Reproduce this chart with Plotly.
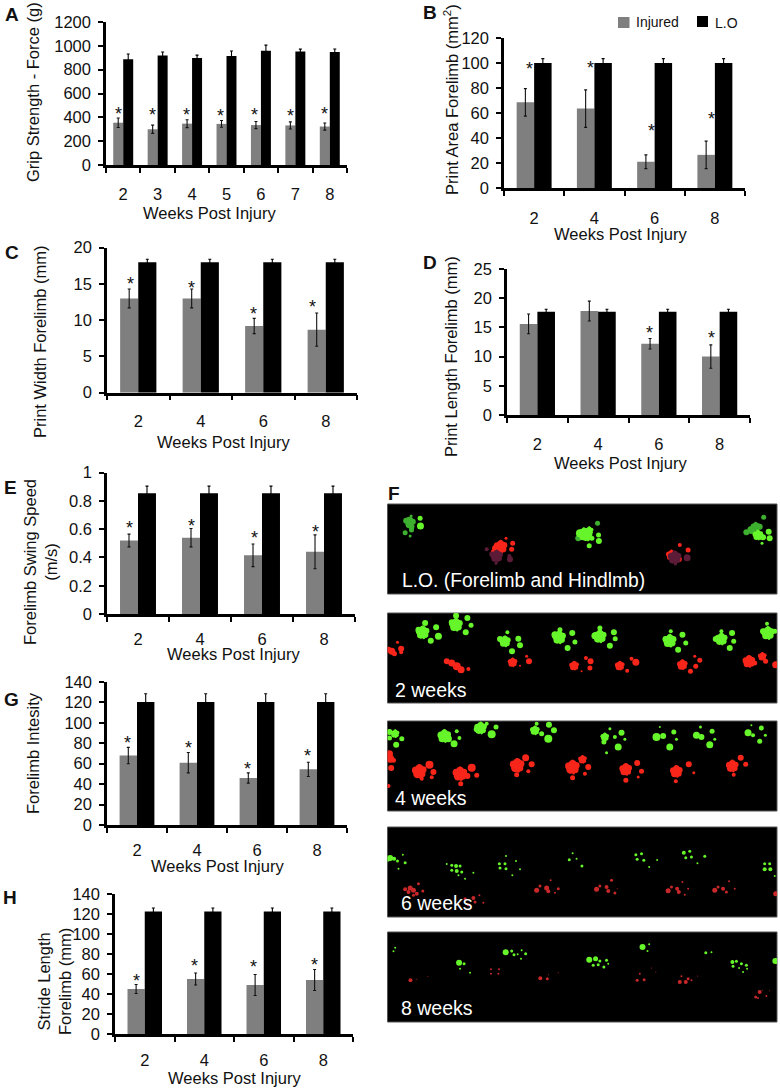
import plotly.graph_objects as go

FONT = "Liberation Sans"
W, H = 780, 1090
GRAY = "#7f7f7f"
INK = "#111111"

weeks_a = ["2", "3", "4", "5", "6", "7", "8"]
weeks = ["2", "4", "6", "8"]

a_injured = [355, 300, 347, 345, 335, 332, 323]
a_injured_err = [40, 35, 33, 28, 30, 30, 30]
a_lo = [887, 918, 897, 915, 958, 952, 948]
a_lo_err = [45, 30, 25, 42, 48, 20, 25]
a_star_x = [-0.15, 0.846, 1.826, 2.84, 3.80, 4.85, 5.85]
a_star_y = [447, 442, 439, 434, 439, 434, 445]
a_ticks = [0, 200, 400, 600, 800, 1000, 1200]

b_injured = [68.5, 63.5, 21, 26.5]
b_injured_err = [11, 15, 5.5, 11]
b_lo = [100, 100, 100, 100]
b_lo_err = [3.5, 3.5, 3.5, 3.5]
b_star_x = [-0.07, 0.93, 1.94, 2.95]
b_star_y = [97, 98, 48, 57]
b_ticks = [0, 20, 40, 60, 80, 100, 120]

c_injured = [13, 13, 9.2, 8.7]
c_injured_err = [1.3, 1.3, 1.05, 2.3]
c_lo = [18, 18, 18, 18]
c_lo_err = [0.4, 0.4, 0.4, 0.4]
c_star_x = [-0.13, 0.855, 1.84, 2.79]
c_star_y = [15.3, 14.85, 11.2, 12.2]
c_ticks = [0, 5, 10, 15, 20]

d_injured = [15.6, 17.8, 12.2, 10]
d_injured_err = [1.7, 1.7, 0.9, 2]
d_lo = [17.7, 17.7, 17.7, 17.7]
d_lo_err = [0.4, 0.4, 0.4, 0.4]
d_star_x = [1.85, 2.86]
d_star_y = [14.5, 13.6]
d_ticks = [0, 5, 10, 15, 20, 25]

e_injured = [0.52, 0.54, 0.415, 0.44]
e_injured_err = [0.045, 0.065, 0.08, 0.12]
e_lo = [0.855, 0.855, 0.855, 0.855]
e_lo_err = [0.05, 0.05, 0.05, 0.05]
e_star_x = [-0.13, 0.855, 1.876, 2.86]
e_star_y = [0.623, 0.642, 0.553, 0.6]
e_ticks = [0, 0.2, 0.4, 0.6, 0.8, 1]

g_injured = [68, 61, 46, 54.5]
g_injured_err = [8, 10, 5, 7]
g_lo = [120.5, 120.5, 120.5, 120.5]
g_lo_err = [8, 8, 8, 8]
g_star_x = [-0.155, 0.855, 1.845, 2.84]
g_star_y = [82.6, 77.4, 57, 70]
g_ticks = [0, 20, 40, 60, 80, 100, 120, 140]

h_injured = [45, 55, 49, 54]
h_injured_err = [4.5, 6, 10.5, 10.5]
h_lo = [122.5, 122.5, 122.5, 122.5]
h_lo_err = [3.5, 3.5, 3.5, 3.5]
h_star_x = [-0.147, 0.83, 1.835, 2.85]
h_star_y = [55.5, 70.5, 69.2, 71.8]
h_ticks = [0, 20, 40, 60, 80, 100, 120, 140]

# Paw prints of panel F: (x, y, size)
f1_green = [(600,160,8),(612,155,9),(628,152,9),(622,168,11),(608,172,6),(636,175,5),(656,165,5),(657,183,6),(628,197,5),(1135,165,11),(1145,170,6),(1150,172,6),(1167,155,6),(1170,175,6),(1147,190,3),(121,138,7),(120,115,5)]
f1_green_dim = [(78,122,6),(88,122,8),(98,125,6),(88,133,8),(94,140,6),(94,150,5),(93,108,3),(75,158,5),(90,168,3),(595,175,6),(653,130,5),(1115,150,8),(1128,140,10),(1140,140,6),(1100,157,6),(1152,112,5)]
f1_red = [(362,200,14),(345,205,6),(340,215,5),(398,190,5),(395,208,5),(378,175,3),(875,225,11),(900,195,4),(925,210,5),(897,238,6)]
f1_red_dim = [(350,228,13),(335,222,5),(390,238,6),(388,228,4),(320,208,4),(348,250,3),(885,232,14),(922,233,7),(887,252,3)]
f2_green = [(128,458,14),(115,450,6),(135,430,6),(168,443,6),(175,470,7),(152,483,6),
            (228,435,14),(215,428,6),(228,408,6),(262,415,6),(273,437,5),(257,458,6),
            (375,485,12),(360,478,6),(382,458,4),(415,477,6),(420,497,6),(396,515,6),
            (538,473,14),(525,465,7),(540,450,5),(577,460,6),(585,487,5),(563,505,6),
            (660,470,14),(645,468,7),(660,445,5),(702,458,6),(706,477,5),(690,498,6),
            (870,483,14),(857,478,6),(873,455,4),(908,465,6),(918,490,5),(895,510,6),
            (1025,478,13),(1008,478,6),(1025,455,4),(1057,460,6),(1062,485,5),(1050,505,6),
            (1165,460,14),(1150,455,6),(1162,432,4),(1185,455,5)]
f2_red = [(35,515,7),(25,510,6),(43,522,5),(52,488,3),(63,507,6),(63,518,4),
          (200,545,6),(215,550,7),(230,560,8),(243,570,7),(265,568,4),
          (398,548,10),(440,530,3),(447,545,6),(420,558,2),
          (583,558,10),(618,535,4),(632,545,6),(630,565,5),(605,575,2),
          (720,558,10),(755,537,4),(768,548,7),(742,573,4),
          (908,555,11),(932,575,5),(960,542,5),(948,560,5),(945,530,3),
          (1108,545,13),(1125,550,5),(1148,530,9),(1158,545,5),(1188,555,7)]
f3_green = [(45,55,9),(28,50,6),(28,68,5),(65,70,5),(48,88,6),
            (193,62,14),(205,70,7),(230,48,4),(238,68,4),(222,85,7),
            (302,38,13),(290,42,6),(320,25,4),(348,35,5),(335,57,8),
            (465,45,10),(485,55,5),(470,25,4),(507,28,6),(522,45,6),(505,70,8),
            (675,65,9),(672,80,5),(690,40,3),(725,52,6),(735,72,3),(715,95,7),(705,65,4),(680,112,3),
            (830,65,8),(850,62,6),(840,35,2),(882,50,5),(890,72,3),(870,95,7),
            (950,60,7),(965,65,6),(962,35,3),(997,48,5),(1005,72,3),(990,88,7),
            (1105,52,7),(1120,60,4),(1115,30,2),(1145,38,5),(1157,60,3),(1140,78,5)]
f3_red = [(30,130,8),(28,115,7),(40,135,5),(33,158,6),(25,212,4),
          (118,168,15),(148,148,8),(160,170,6),(155,186,4),(125,190,4),
          (240,175,15),(275,157,8),(290,180,5),(262,182,6),(242,205,5),
          (412,150,15),(437,127,7),(455,147,6),(445,168,4),(410,178,5),
          (578,155,15),(608,132,9),(625,155,6),(615,175,4),(578,187,5),
          (738,162,13),(772,143,6),(785,168,5),(738,195,5),(775,185,3),
          (890,168,13),(927,147,6),(942,172,3),(888,198,4),
          (1058,152,13),(1083,127,6),(1098,147,5),(1062,178,4)]
f4_green = [(30,428,6),(22,432,5),(42,430,4),(52,437,3),(75,442,3),(55,460,2),(68,418,2),
            (215,450,3),(228,452,4),(240,452,3),(215,465,3),(230,467,4),(245,470,3),(280,472,2),(200,446,2),(255,490,2),(235,480,2),
            (358,445,3),(375,445,3),(360,458,3),(378,460,3),(408,437,2),(420,462,2),(397,480,2),(378,422,2),
            (568,433,3),(590,430,2),(578,414,2),(606,452,3),
            (768,418,3),(785,415,3),(772,432,3),(792,435,3),(832,434,2),(808,455,2),
            (912,412,4),(930,408,3),(918,427,3),(935,425,3),(975,423,3),(953,444,2),
            (1155,445,3),(1170,445,3),(1155,462,4),(1172,462,4),(1185,482,2)]
f4_red = [(75,522,4),(90,518,5),(100,525,5),(85,530,4),(110,535,4),(115,505,3),(128,527,3),(100,540,3),
          (255,550,3),(280,548,4),(285,560,3),(265,568,3),(310,562,2),(298,540,2),
          (470,525,5),(480,512,3),(500,518,5),(505,528,4),(535,520,3),(512,495,2),(525,532,2),
          (650,522,5),(660,512,3),(680,515,4),(685,527,4),(695,495,3),(705,533,3),(712,520,1),
          (865,526,5),(875,515,3),(892,520,4),(897,530,4),(908,500,2),(915,538,2),(925,520,2),
          (1005,525,5),(1015,515,3),(1030,520,4),(1040,530,3),(1048,498,2),(1065,520,2),
          (1188,535,5)]
f5_green = [(45,697,2),(40,708,2),
            (237,742,6),(252,745,3),(240,760,2),(270,772,2),
            (377,711,6),(395,707,3),(402,718,3),(425,705,2),(437,715,3),(423,730,2),(413,717,2),
            (628,733,6),(647,730,5),(640,750,3),(660,737,3),(680,735,3),(685,745,2),(672,755,3),(655,748,3),
            (788,695,6),(808,687,2),(803,707,2),
            (978,712,3),(995,711,2),
            (1058,740,4),(1070,738,3),(1060,753,3),(1085,745,3),(1100,750,3),(1078,758,2),(1090,770,2),(1102,760,2),
            (1187,737,6)]
f5_red = [(91,795,4),(110,792,1),(143,783,1),
          (333,762,2),(357,762,2),(333,775,2),(355,775,2),
          (481,789,4),(502,790,3),(505,778,1),(535,772,1),
          (772,795,3),(793,793,3),(780,775,2),(815,758,1),(828,770,1),
          (900,800,4),(918,800,4),(905,783,2),(925,790,3),(935,795,2),(953,782,1),
          (1128,845,3),(1140,830,4),(1160,842,2),(1148,825,1),(1170,826,1),(1135,848,2)]

fig = go.Figure()
annotations = []
shapes = []


def paper_text(x, y, text, size, angle=0, color=INK, bold=False, anchor="center"):
    annotations.append(dict(
        x=x / W, y=1 - y / H, xref="paper", yref="paper", text=f"<b>{text}</b>" if bold else text,
        showarrow=False, textangle=angle, xanchor=anchor, yanchor="middle",
        font=dict(family=FONT, size=size, color=color), align="center",
    ))


def bar_panel(i, labels, inj, inj_err, lo, lo_err, star_x, star_y, ticks, ymax, box, standoff):
    x0, x1, y0, y1 = box
    suffix = "" if i == 1 else str(i)
    xs = list(range(len(labels)))
    fig.add_trace(go.Bar(
        x=xs, y=inj, name="Injured", marker=dict(color=GRAY, line_width=0), xaxis=f"x{suffix}", yaxis=f"y{suffix}",
        offsetgroup="a", showlegend=False,
        error_y=dict(type="data", array=inj_err, visible=True, color="#111111", thickness=1.1, width=1.5),
    ))
    fig.add_trace(go.Bar(
        x=xs, y=lo, name="L.O", marker=dict(color="#000000", line_width=0), xaxis=f"x{suffix}", yaxis=f"y{suffix}",
        offsetgroup="b", showlegend=False,
        error_y=dict(type="data", array=lo_err, visible=True, color="#000000", thickness=1.1, width=1.5),
    ))
    fig.update_layout(**{
        f"xaxis{suffix}": dict(
            domain=[x0 / W, x1 / W], range=[-0.5, len(labels) - 0.5], anchor=f"y{suffix}",
            tickmode="array", tickvals=xs, ticktext=labels, ticks="", ticklabelstandoff=standoff,
            showgrid=False, zeroline=False, showline=True, linecolor="#000", linewidth=2.5,
            tickfont=dict(family=FONT, size=16.5, color=INK),
            minor=dict(tickmode="array", tickvals=[v - 0.5 for v in range(len(labels) + 1)],
                       ticks="outside", ticklen=5, tickwidth=2, tickcolor="#000", showgrid=False),
        ),
        f"yaxis{suffix}": dict(
            domain=[1 - y1 / H, 1 - y0 / H], range=[0, ymax], anchor=f"x{suffix}",
            tickmode="array", tickvals=ticks, ticks="outside", ticklen=5, tickwidth=2, tickcolor="#000",
            ticklabelstandoff=4, showgrid=False, zeroline=False, showline=True, linecolor="#000", linewidth=2.5,
            tickfont=dict(family=FONT, size=16.5, color=INK),
        ),
    })
    for sx, sy in zip(star_x, star_y):
        annotations.append(dict(
            x=sx, y=sy, xref=f"x{suffix}", yref=f"y{suffix}", text="*", showarrow=False, yshift=-2.5,
            font=dict(family=FONT, size=18, color=INK),
        ))


# A large pad is not round in the picture: it is drawn as a small irregular cluster.
PAD_SHAPE = [(-3.5, -1, 0.5), (0, -3, 0.5), (3.5, -1.5, 0.45), (-2, 2.5, 0.55), (2.5, 2.5, 0.45), (0, 0, 0.65),
             (0, -5.5, 0.2), (1, 5.5, 0.2)]


def expand(points):
    out = []
    for x, y, s in points:
        if s >= 9:
            r = s / 14
            out.extend((x + 3 * dx * r, y + 3 * dy * r, s * k) for dx, dy, k in PAD_SHAPE)
        else:
            out.append((x, y, s))
    return out


def paw_trace(points, color, suffix):
    pts = expand(points)
    fig.add_trace(go.Scatter(
        x=[p[0] for p in pts], y=[p[1] for p in pts], mode="markers", showlegend=False,
        marker=dict(color=color, size=[p[2] for p in pts], symbol="circle", line_width=0, opacity=1),
        xaxis=f"x{suffix}", yaxis=f"y{suffix}", hoverinfo="skip",
    ))


def paw_panel(i, layers, yrange, box):
    x0, x1, y0, y1 = box
    for points, color in layers:
        paw_trace(points, color, i)
    fig.update_layout(**{
        f"xaxis{i}": dict(domain=[x0 / W, x1 / W], range=[22, 1192], anchor=f"y{i}", visible=False),
        f"yaxis{i}": dict(domain=[1 - y1 / H, 1 - y0 / H], range=[yrange[1], yrange[0]], anchor=f"x{i}", visible=False),
    })
    shapes.append(dict(type="rect", xref=f"x{i} domain", yref=f"y{i} domain", x0=0, x1=1, y0=0, y1=1,
                       fillcolor="#000", line=dict(color="#555", width=1), layer="below"))


bar_panel(1, weeks_a, a_injured, a_injured_err, a_lo, a_lo_err, a_star_x, a_star_y, a_ticks, 1200, (106, 347, 22, 165), 12)
bar_panel(2, weeks, b_injured, b_injured_err, b_lo, b_lo_err, b_star_x, b_star_y, b_ticks, 120, (504, 745, 38, 188), 13)
bar_panel(3, weeks, c_injured, c_injured_err, c_lo, c_lo_err, c_star_x, c_star_y, c_ticks, 20, (107, 357, 247.7, 392.7), 12)
bar_panel(4, weeks, d_injured, d_injured_err, d_lo, d_lo_err, d_star_x, d_star_y, d_ticks, 25, (507, 750, 269, 415), 12)
bar_panel(5, weeks, e_injured, e_injured_err, e_lo, e_lo_err, e_star_x, e_star_y, e_ticks, 1, (107, 355, 472.7, 614), 8)
bar_panel(6, weeks, g_injured, g_injured_err, g_lo, g_lo_err, g_star_x, g_star_y, g_ticks, 140, (107, 347, 682, 825), 8)
bar_panel(7, weeks, h_injured, h_injured_err, h_lo, h_lo_err, h_star_x, h_star_y, h_ticks, 140, (115, 353, 894, 1034), 9)

GREEN, GREEN_DIM, RED, RED_DIM, RED_FAINT = "#66f52a", "#3db02f", "#f8261a", "#5c1c38", "#c9282a"
paw_panel(8, [(f1_green_dim, GREEN_DIM), (f1_green, GREEN), (f1_red, RED), (f1_red_dim, RED_DIM)], (72, 342), (387.5, 777, 504, 594))
paw_panel(9, [(f2_green, GREEN), (f2_red, RED)], (400, 670), (387.5, 777, 613, 703))
paw_panel(10, [(f3_green, GREEN), (f3_red, RED)], (17, 287), (387.5, 777, 721, 811))
paw_panel(11, [(f4_green, GREEN), (f4_red, RED_FAINT)], (335, 605), (387.5, 777, 827, 917))
paw_panel(12, [(f5_green, GREEN), (f5_red, RED_FAINT)], (650, 920), (387.5, 777, 932, 1022))

# Panel letters
for letter, x, y in [("A", 12, 14), ("B", 430, 13), ("C", 12, 253), ("D", 430, 262),
                     ("E", 10, 487), ("F", 394, 493), ("G", 11, 699), ("H", 10, 897)]:
    paper_text(x, y, letter, 19, bold=True)

# Axis titles
TITLE = 16.5
for x, y, text in [(209, 213, "Weeks Post Injury"), (620.7, 234, "Weeks Post Injury"), (223, 442, "Weeks Post Injury"),
                   (620, 463, "Weeks Post Injury"), (233, 654, "Weeks Post Injury"), (217, 866, "Weeks Post Injury"),
                   (234, 1078, "Weeks Post Injury")]:
    paper_text(x, y, text, TITLE)
for x, y, text in [(33, 92, "Grip Strength - Force (g)"), (451, 100, "Print Area Forelimb (mm<sup>2</sup>)"),
                   (40, 342, "Print Width Forelimb (mm)"), (451, 357, "Print Length Forelimb (mm)"),
                   (40, 562, "Forelimb Swing Speed<br>(m/s)"), (33, 753, "Forelimb Intesity"),
                   (54, 982, "Stride Length<br>Forelimb (mm)")]:
    paper_text(x, y, text, TITLE, angle=-90)

# Legend of panel B
for x0, x1, y0, y1, color in [(618, 629.5, 17, 28, GRAY), (697, 708, 16, 27, "#000000")]:
    shapes.append(dict(type="rect", xref="paper", yref="paper", x0=x0 / W, x1=x1 / W, y0=1 - y1 / H, y1=1 - y0 / H,
                       fillcolor=color, line_width=0))
paper_text(634, 22, "Injured", 14, anchor="left")
paper_text(713, 22.5, "L.O", 14, anchor="left")

# Labels inside the footprint panels
WHITE = "#ffffff"
paper_text(400, 580, "L.O. (Forelimb and Hindlmb)", 19.3, color=WHITE, anchor="left")
paper_text(393, 690, "2 weeks", 19.5, color=WHITE, anchor="left")
paper_text(393, 798, "4 weeks", 19.5, color=WHITE, anchor="left")
paper_text(399, 903, "6 weeks", 19.5, color=WHITE, anchor="left")
paper_text(399, 1008, "8 weeks", 19.5, color=WHITE, anchor="left")

fig.update_layout(
    width=W, height=H, margin=dict(l=0, r=0, t=0, b=0, autoexpand=False), autosize=False,
    paper_bgcolor="#fff", plot_bgcolor="#fff", barmode="group", bargap=0.42, bargroupgap=0,
    annotations=annotations, shapes=shapes, showlegend=False,
)
fig.write_html("out.html", config=dict(displayModeBar=False), post_script="document.body.style.margin='0';")
